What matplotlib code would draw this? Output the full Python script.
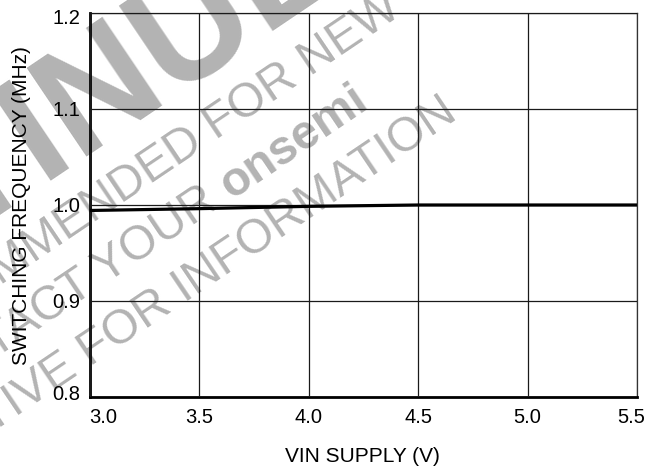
import numpy as np
import matplotlib
matplotlib.use("Agg")
import matplotlib.pyplot as plt
from matplotlib.transforms import IdentityTransform, ScaledTranslation
from matplotlib.font_manager import FontProperties

plt.rcParams['font.family'] = ['Liberation Sans', 'DejaVu Sans']

# ---- data ----
vin = [3.0, 3.5, 4.0, 4.5, 5.0, 5.5]
freq = [0.9943, 0.9962, 0.9986, 1.0, 1.0, 1.0]
x_ticks = [3.0, 3.5, 4.0, 4.5, 5.0, 5.5]
y_ticks = [0.8, 0.9, 1.0, 1.1, 1.2]
x_label = "VIN SUPPLY (V)"
y_label = "SWITCHING FREQUENCY (MHz)"
wm_lines = ["DISCONTINUED", "NOT RECOMMENDED FOR NEW", "CONTACT YOUR", "onsemi",
            "REPRESENTATIVE FOR INFORMATION"]

W, H = 657, 470
fig = plt.figure(figsize=(W / 100, H / 100), dpi=100)
ax = fig.add_axes([90 / W, 1 - 397 / H, (637 - 90) / W, (397 - 13) / H])
ax.set_facecolor('none')

# ---- watermark (behind the chart) ----
ang = 34.0
th = np.deg2rad(ang)
c, s = np.cos(th), np.sin(th)
wm_col = '#b3b3b3'
renderer = fig.canvas.get_renderer()

def width(text, size, weight='normal'):
    fp = FontProperties(family='Liberation Sans', weight=weight, size=size)
    w, _, _ = renderer.get_text_width_height_descent(text, fp, ismath=False)
    return w

def wm(text, x, y, size, weight='normal', ha='right'):
    fig.text(x, H - y, text, transform=IdentityTransform(), fontsize=size,
             fontweight=weight, color=wm_col, rotation=ang, rotation_mode='anchor',
             ha=ha, va='baseline', zorder=-5)

# big line: place so that the bottom centre of the "U" sits at P
big = 112
P = (217, 62)
wpre = width("DISCONTIN", big, 'bold') + width("U", big, 'bold') / 2
wm(wm_lines[0], P[0] - wpre * c, P[1] + wpre * s, big, 'bold', ha='left')

fs = 34.5
wm(wm_lines[1], 403, 14, fs)
x3, y3 = 370, 106
wm(wm_lines[3], x3, y3, fs, 'bold')
wb = width(wm_lines[3], fs, 'bold') + 0.278 * fs * 100 / 72
wm(wm_lines[2], x3 - wb * c, y3 + wb * s, fs)
wm(wm_lines[4], 459, 118, fs)

# ---- chart ----
ax.plot(vin, freq, color='black', lw=2.3, zorder=5, solid_capstyle='butt')
ax.set_xlim(3.0, 5.5)
ax.set_ylim(0.8, 1.2)
ax.set_xticks(x_ticks)
ax.set_yticks(y_ticks)
ax.set_xticklabels([f"{v:.1f}" for v in x_ticks])
ax.set_yticklabels([f"{v:.1f}" for v in y_ticks])
ax.tick_params(axis='both', length=0, labelsize=14.5, colors='black')
ax.tick_params(axis='x', pad=8)
ax.tick_params(axis='y', pad=7)
ax.grid(True, color='#1a1a1a', lw=0.9)
ax.set_axisbelow(False)
for sp in ['top', 'right']:
    ax.spines[sp].set_linewidth(0.9)
    ax.spines[sp].set_color('#333333')
for sp in ['left', 'bottom']:
    ax.spines[sp].set_linewidth(2.0)
    ax.spines[sp].set_color('black')

def shift(lbl, dx_px, dy_px):
    lbl.set_transform(lbl.get_transform() + ScaledTranslation(dx_px / 100, dy_px / 100, fig.dpi_scale_trans))

xl = ax.get_xticklabels()
shift(xl[0], 13, 0)
shift(xl[-1], -6, 0)
yl = ax.get_yticklabels()
shift(yl[0], 0, 4)
shift(yl[-1], 0, -3.5)

fig.text(362 / W, 1 - 456 / H, x_label, ha='center', va='center', fontsize=15)
fig.text(22 / W, 1 - 206 / H, y_label, ha='center', va='center', rotation=90, fontsize=15)

fig.savefig("out.png", dpi=100)
